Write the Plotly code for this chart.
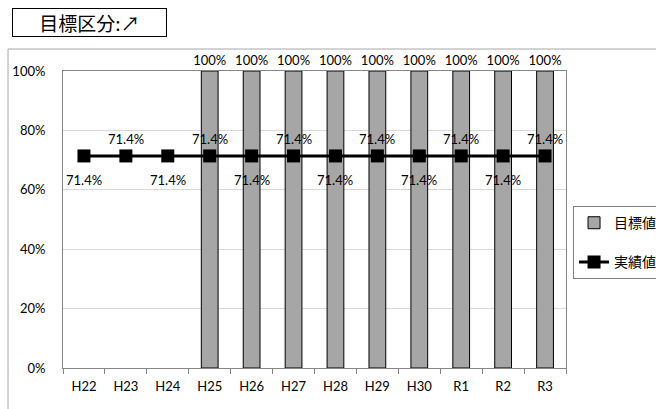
import plotly.graph_objects as go

categories = ["H22", "H23", "H24", "H25", "H26", "H27", "H28", "H29", "H30", "R1", "R2", "R3"]
target_values = [None, None, None, 1.0, 1.0, 1.0, 1.0, 1.0, 1.0, 1.0, 1.0, 1.0]
actual_values = [0.714] * 12
label_side = ["below", "above", "below", "above", "below", "above",
              "below", "above", "below", "above", "below", "above"]
y_ticks = [0, 0.2, 0.4, 0.6, 0.8, 1.0]
y_tick_labels = ["0%", "20%", "40%", "60%", "80%", "100%"]

LATIN = "Lato, 'Noto Sans CJK JP', sans-serif"
CJK = "'Noto Sans CJK JP', sans-serif"

fig = go.Figure()
fig.add_trace(go.Bar(
    x=categories, y=target_values, name="目標値", legendgroup="a",
    marker=dict(color="#A6A6A6", line=dict(color="#000000", width=1)),
    width=0.4,
    text=["" if v is None else f"{v*100:.0f}%" for v in target_values],
    textposition="outside", constraintext="none",
    textfont=dict(family=LATIN, size=13, color="#000"),
    cliponaxis=False,
))
fig.add_trace(go.Scatter(
    x=categories, y=actual_values, name="実績値", mode="lines+markers", legendgroup="b",
    line=dict(color="#000000", width=3),
    marker=dict(symbol="square", size=13, color="#000000"),
))

annotations = []
for c, v, side in zip(categories, actual_values, label_side):
    annotations.append(dict(
        x=c, y=v, xref="x", yref="y", text=f"{v*100:.1f}%", showarrow=False,
        yshift=17 if side == "above" else -24,
        font=dict(family=LATIN, size=13, color="#000"),
    ))
annotations.append(dict(
    x=0.0527, y=1.163, xref="paper", yref="paper", text="目標区分:↗",
    showarrow=False, xanchor="center", yanchor="middle",
    font=dict(family=CJK, size=19, color="#000"),
    bordercolor="#000000", borderwidth=1, borderpad=0, bgcolor="#ffffff",
    width=153, height=27,
))

fig.update_layout(
    width=656, height=409,
    margin=dict(l=63, r=90, t=71, b=41, autoexpand=False),
    paper_bgcolor="#ffffff", plot_bgcolor="#ffffff",
    showlegend=True,
    legend=dict(
        x=1.014, y=0.545, xanchor="left", yanchor="top",
        bordercolor="#808080", borderwidth=1,
        font=dict(family=CJK, size=14, color="#000"),
        tracegroupgap=18, itemwidth=30,
    ),
    annotations=annotations,
    shapes=[dict(type="rect", xref="paper", yref="paper",
                 x0=-0.1093, y0=-0.2, x1=1.3, y1=1.074,
                 line=dict(color="#A6A6A6", width=1), layer="below")],
)
fig.update_xaxes(
    type="category", categoryorder="array", categoryarray=categories,
    range=[-0.5, len(categories) - 0.5],
    tickson="boundaries", ticks="outside", ticklen=5, tickcolor="#868686",
    showline=True, linecolor="#868686", mirror=True,
    tickfont=dict(family=LATIN, size=13, color="#000"),
    ticklabelstandoff=6,
    showgrid=False,
)
fig.update_yaxes(
    range=[0, 1.0], tickvals=y_ticks, ticktext=y_tick_labels,
    showgrid=True, gridcolor="#D9D9D9", gridwidth=1,
    showline=True, linecolor="#868686", mirror=True,
    ticks="", ticklabelstandoff=14,
    tickfont=dict(family=LATIN, size=13, color="#000"),
    zeroline=False,
)

fig.write_html("out.html", post_script="document.body.style.margin='0px';",
               config={"displayModeBar": False})
